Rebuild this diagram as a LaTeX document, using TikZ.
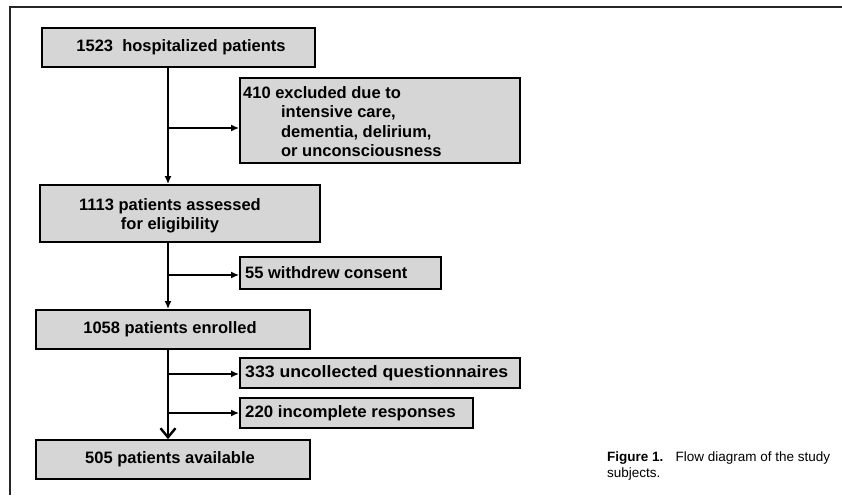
\documentclass[tikz,border=0pt]{standalone}
\usepackage{fontspec}
\setmainfont{Liberation Sans}
\usetikzlibrary{arrows.meta}
\definecolor{boxfill}{gray}{0.84}
\tikzset{
  fbox/.style={draw=black, line width=1.8pt, fill=boxfill, inner sep=0pt},
  btext/.style={font=\fontsize{16.5}{19.5}\selectfont\bfseries, inner sep=0pt, text=black},
  conn/.style={line width=1.9pt, -{Latex[length=8pt,width=7pt]}},
  bigconn/.style={line width=1.9pt, -{Straight Barb[length=9pt,width=15pt,line width=2.4pt]}},
  frame/.style={line width=1.8pt, black!85}
}
\begin{document}
\begin{tikzpicture}[x=1pt,y=-1pt]
\useasboundingbox (0,0) rectangle (842,495);
\fill[white] (0,0) rectangle (842,495);
% frame
\coordinate (fl) at (10,495);
\coordinate (fc) at (10,7);
\coordinate (fr) at (842,7);
\draw[frame] (fl) -- (fc) -- (fr);
% boxes
\node[fbox, minimum width=273pt, minimum height=39pt] (b1) at (178.5,47.5) {};
\node[btext] (t1) at (181,47) {1523\ \ hospitalized patients};
\node[fbox, minimum width=280pt, minimum height=85pt] (b2) at (380,120.5) {};
\node[btext, anchor=north west, align=left] (t2) at (243,86) {410 excluded due to\\\hspace*{2.3em}intensive care,\\\hspace*{2.3em}dementia, delirium,\\\hspace*{2.3em}or unconsciousness};
\node[fbox, minimum width=280pt, minimum height=57pt] (b3) at (180,213.5) {};
\node[btext, align=center] (t3) at (170,216) {1113 patients assessed\\for eligibility};
\node[fbox, minimum width=201pt, minimum height=32pt] (b4) at (340.5,273) {};
\node[btext, anchor=west] (t4) at (245,273) {55 withdrew consent};
\node[fbox, minimum width=274pt, minimum height=39pt] (b5) at (173,329.5) {};
\node[btext] (t5) at (170,329.5) {1058 patients enrolled};
\node[fbox, minimum width=280pt, minimum height=30pt] (b6) at (380,373) {};
\node[btext, anchor=west] (t6) at (245,373) {\scalebox{1.07}[1]{333 uncollected questionnaires}};
\node[fbox, minimum width=233pt, minimum height=30pt] (b7) at (356.5,413) {};
\node[btext, anchor=west] (t7) at (245,413) {\scalebox{1.02}[1]{220 incomplete responses}};
\node[fbox, minimum width=274pt, minimum height=39pt] (b8) at (173,459.5) {};
\node[btext] (t8) at (170,459.5) {505 patients available};
% connectors
\coordinate (j1) at (168,128);
\coordinate (j2) at (168,275);
\coordinate (j3) at (168,374);
\coordinate (j4) at (168,413);
\draw[conn] (b1.south -| j1) -- (b3.north -| j1);
\draw[conn] (j1) -- (b2.west |- j1);
\draw[conn] (b3.south -| j2) -- (b5.north -| j2);
\draw[conn] (j2) -- (b4.west |- j2);
\draw[bigconn] (b5.south -| j3) -- (b8.north -| j3);
\draw[conn] (j3) -- (b6.west |- j3);
\draw[conn] (j4) -- (b7.west |- j4);
% caption
\node[anchor=west, inner sep=0pt, font=\fontsize{13.5}{16}\selectfont, align=left] (cap) at (607,466) {\textbf{Figure 1.}\hspace{0.9em}Flow diagram of the study\\subjects.};
\end{tikzpicture}
\end{document}
